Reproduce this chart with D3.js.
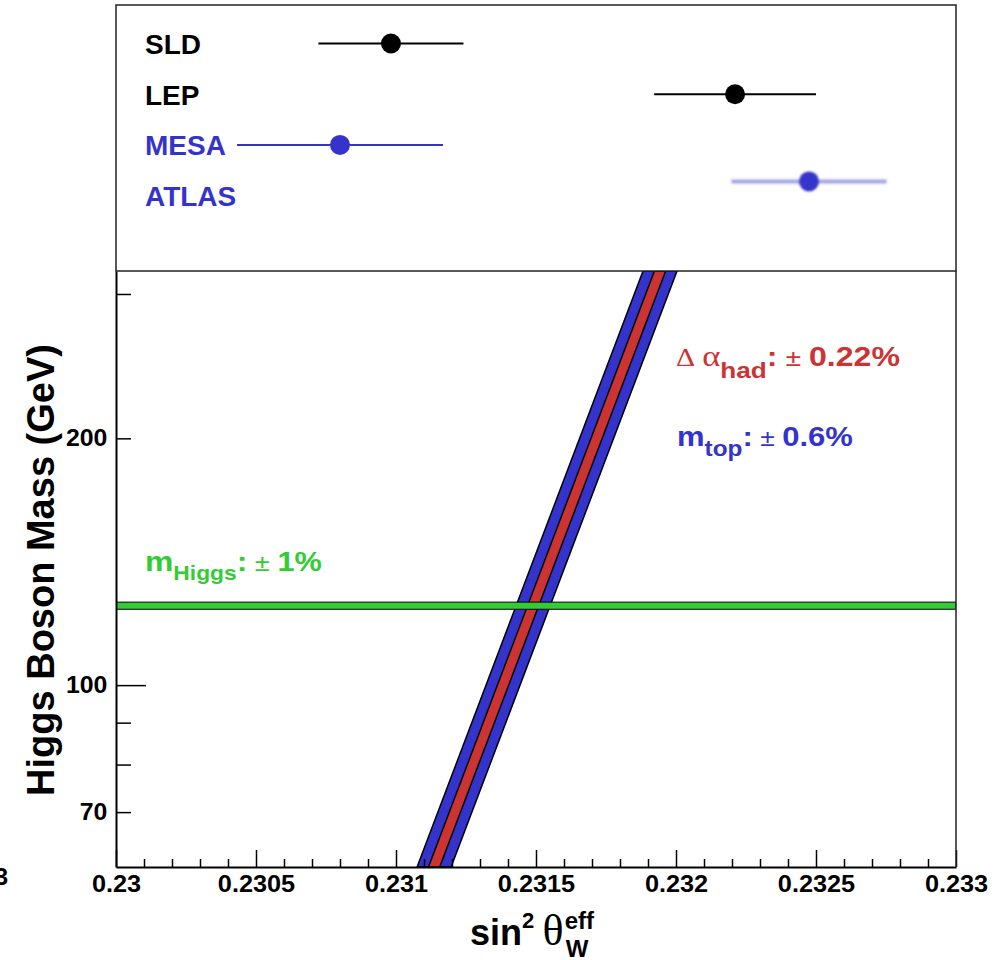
<!DOCTYPE html>
<html>
<head>
<meta charset="utf-8">
<script src="https://cdn.jsdelivr.net/npm/d3@7"></script>
<style>
  body { margin: 0; background: white; }
  svg { display: block; }
  svg text { font-family: "Liberation Sans", Arial, Helvetica, sans-serif; }
</style>
</head>
<body>
<svg id="chart" width="1007" height="960"></svg>
<script>
// measurements (top panel)
var expNames = ["SLD", "LEP", "MESA", "ATLAS"];
var expValues = [0.230982, 0.232211, 0.2308, 0.232475];
var expErrors = [0.000259, 0.000289, 0.000368, 0.000277];
var expRows = [0, 1, 2, 2.72];

// Higgs mass band
var higgsMass = 125;
var higgsRelErr = 0.01;

// SM prediction band: centre line at two masses, half widths
var bandMass = [60, 320];
var bandCentre = [0.231136, 0.231943];
var alphaHalf = 0.00002;
var topHalf = 0.0000607;

// axis ticks
var xMajorTicks = [0.23, 0.2305, 0.231, 0.2315, 0.232, 0.2325, 0.233];
var yTicks = [70, 80, 90, 100, 200, 300];
var yLabels = [70, 100, 200];

var BLUE = "#3434cc", RED = "#cc3434", GREEN = "#34cc34";
var FONT = '"Liberation Sans", Arial, Helvetica, sans-serif';
var SERIF = '"Liberation Serif", "Times New Roman", serif';

var left = 116, right = 956, topY = 5, midY = 271, bottom = 867;

var svg = d3.select("#chart");

var x = d3.scaleLinear().domain([0.23, 0.233]).range([left, right]);
var y = d3.scaleLog().domain([60, 320]).range([bottom, midY]);
var rowY = d3.scaleLinear().domain([0, 1]).range([43.5, 94.2]);

var defs = svg.append("defs");
defs.append("clipPath").attr("id", "plotclip")
  .append("rect").attr("x", left).attr("y", midY)
  .attr("width", right - left).attr("height", bottom - midY);
defs.append("filter").attr("id", "blur")
  .append("feGaussianBlur").attr("stdDeviation", 1.1);

var plot = svg.append("g").attr("clip-path", "url(#plotclip)");

function bandPoly(h) {
  return [
    [x(bandCentre[0] - h), y(bandMass[0])],
    [x(bandCentre[1] - h), y(bandMass[1])],
    [x(bandCentre[1] + h), y(bandMass[1])],
    [x(bandCentre[0] + h), y(bandMass[0])]
  ];
}

plot.append("polygon")
  .attr("points", bandPoly(topHalf).join(" "))
  .attr("fill", BLUE).attr("stroke", "black").attr("stroke-width", 1.5);
plot.append("polygon")
  .attr("points", bandPoly(alphaHalf).join(" "))
  .attr("fill", RED).attr("stroke", "black").attr("stroke-width", 1.5);

// Higgs band
plot.append("rect")
  .attr("x", left)
  .attr("width", right - left)
  .attr("y", y(higgsMass * (1 + higgsRelErr)))
  .attr("height", y(higgsMass * (1 - higgsRelErr)) - y(higgsMass * (1 + higgsRelErr)))
  .attr("fill", GREEN).attr("stroke", "black").attr("stroke-width", 1);

function isMajor(d) {
  return xMajorTicks.some(function (m) { return Math.abs(m - d) < 1e-9; });
}

// x axis
var xMinor = d3.range(0, 31).map(function (i) { return +(0.23 + i * 0.0001).toFixed(4); });
var xAxis = d3.axisBottom(x)
  .tickValues(xMinor)
  .tickSizeInner(-8)
  .tickSizeOuter(0)
  .tickPadding(9)
  .tickFormat(function (d) { return isMajor(d) ? String(d) : ""; });

var gx = svg.append("g").attr("transform", "translate(0," + bottom + ")").call(xAxis);
gx.selectAll(".tick line")
  .attr("stroke-width", 1.5)
  .attr("y2", function (d) { return isMajor(d) ? -17 : -8; });
gx.selectAll("text").attr("font-size", 23).attr("font-weight", "bold")
  .attr("fill", "black").attr("transform", "scale(1.1,1)")
  .style("font-family", FONT);
gx.select(".domain").attr("stroke-width", 2);

// y axis
var yAxis = d3.axisLeft(y)
  .tickValues(yTicks)
  .tickSizeInner(-15)
  .tickSizeOuter(0)
  .tickPadding(8)
  .tickFormat(function (d) { return yLabels.indexOf(d) >= 0 ? String(d) : ""; });

var gy = svg.append("g").attr("transform", "translate(" + left + ",0)").call(yAxis);
gy.selectAll(".tick line")
  .attr("stroke-width", 1.5)
  .attr("x2", function (d) { return d === 100 ? 30 : 15; });
gy.selectAll("text").attr("font-size", 23).attr("font-weight", "bold")
  .attr("fill", "black").attr("transform", "scale(1.08,1)")
  .style("font-family", FONT);
gy.select(".domain").attr("stroke-width", 2);

// right border of main panel
svg.append("line")
  .attr("x1", right).attr("x2", right).attr("y1", midY).attr("y2", bottom)
  .attr("stroke", "#222").attr("stroke-width", 1.5);

// top panel
svg.append("rect")
  .attr("x", left).attr("y", topY)
  .attr("width", right - left).attr("height", midY - topY)
  .attr("fill", "white").attr("stroke", "#222").attr("stroke-width", 1.5);

var expColors = ["black", "black", BLUE, BLUE];

var pts = svg.append("g").selectAll("g.exp")
  .data(expNames)
  .enter().append("g")
  .attr("class", "exp")
  .attr("filter", function (d, i) { return i === 3 ? "url(#blur)" : null; });

pts.append("line")
  .attr("x1", function (d, i) { return x(expValues[i] - expErrors[i]); })
  .attr("x2", function (d, i) { return x(expValues[i] + expErrors[i]); })
  .attr("y1", function (d, i) { return rowY(expRows[i]); })
  .attr("y2", function (d, i) { return rowY(expRows[i]); })
  .attr("stroke", function (d, i) { return expColors[i]; })
  .attr("stroke-width", function (d, i) { return i === 3 ? 4 : 2; })
  .attr("stroke-opacity", function (d, i) { return i === 3 ? 0.45 : 1; });

pts.append("circle")
  .attr("cx", function (d, i) { return x(expValues[i]); })
  .attr("cy", function (d, i) { return rowY(expRows[i]); })
  .attr("r", 10)
  .attr("fill", function (d, i) { return expColors[i]; });

svg.append("g").selectAll("text")
  .data(expNames)
  .enter().append("text")
  .attr("x", 145)
  .attr("y", function (d, i) { return rowY(i) + 10.5; })
  .attr("font-size", 28)
  .attr("font-weight", "bold")
  .attr("fill", function (d, i) { return expColors[i]; })
  .text(function (d) { return d; });

// rich text helper, stretched horizontally to the given width
function richText(xp, yp, width, color, parts) {
  var g = svg.append("g");
  var t = g.append("text").attr("x", 0).attr("y", 0).attr("fill", color);
  parts.forEach(function (p) {
    t.append("tspan")
      .attr("dy", p.dy || 0)
      .attr("font-size", p.size)
      .attr("font-weight", p.bold ? "bold" : "normal")
      .style("font-family", p.serif ? SERIF : FONT)
      .text(p.t);
  });
  var bb = t.node().getBBox();
  var s = width ? width / bb.width : 1;
  g.attr("transform", "translate(" + (xp - bb.x * s) + "," + yp + ") scale(" + s + ",1)");
  return xp + bb.width * s;
}

richText(676, 366, 224, RED, [
  { t: "\u0394", size: 25, serif: true },
  { t: "\u00a0", size: 24, serif: true },
  { t: "\u03b1", size: 29, serif: true },
  { t: "had", size: 22, bold: true, dy: 12 },
  { t: ":", size: 27, bold: true, dy: -12 },
  { t: "\u00a0\u00b1\u00a0", size: 24 },
  { t: "0.22%", size: 27, bold: true }
]);

richText(677, 446, 176, BLUE, [
  { t: "m", size: 28, bold: true },
  { t: "top", size: 22, bold: true, dy: 10 },
  { t: ":", size: 28, bold: true, dy: -10 },
  { t: "\u00a0\u00b1\u00a0", size: 24 },
  { t: "0.6%", size: 28, bold: true }
]);

richText(145, 571, 177, GREEN, [
  { t: "m", size: 28, bold: true },
  { t: "Higgs", size: 20, bold: true, dy: 9 },
  { t: ":", size: 28, bold: true, dy: -9 },
  { t: "\u00a0\u00b1\u00a0", size: 24 },
  { t: "1%", size: 27, bold: true }
]);

// y title
svg.append("text")
  .attr("transform", "translate(54,570) rotate(-90)")
  .attr("text-anchor", "middle")
  .attr("font-size", 38)
  .attr("font-weight", "bold")
  .text("Higgs Boson Mass (GeV)");

// x title
var xEnd = richText(470, 945, null, "black", [
  { t: "sin", size: 36, bold: true },
  { t: "2", size: 22, bold: true, dy: -17 },
  { t: "\u00a0", size: 30, dy: 17 },
  { t: "\u03b8", size: 44, serif: true }
]);
svg.append("text").attr("x", xEnd + 1).attr("y", 929)
  .attr("font-size", 24).attr("font-weight", "bold").text("eff");
svg.append("text").attr("x", xEnd + 2).attr("y", 957)
  .attr("font-size", 24).attr("font-weight", "bold").text("W");

// clipped stray label at left edge
svg.append("text")
  .attr("x", 8).attr("y", 885)
  .attr("text-anchor", "end")
  .attr("font-size", 24).attr("font-weight", "bold")
  .text("3");
</script>
</body>
</html>
